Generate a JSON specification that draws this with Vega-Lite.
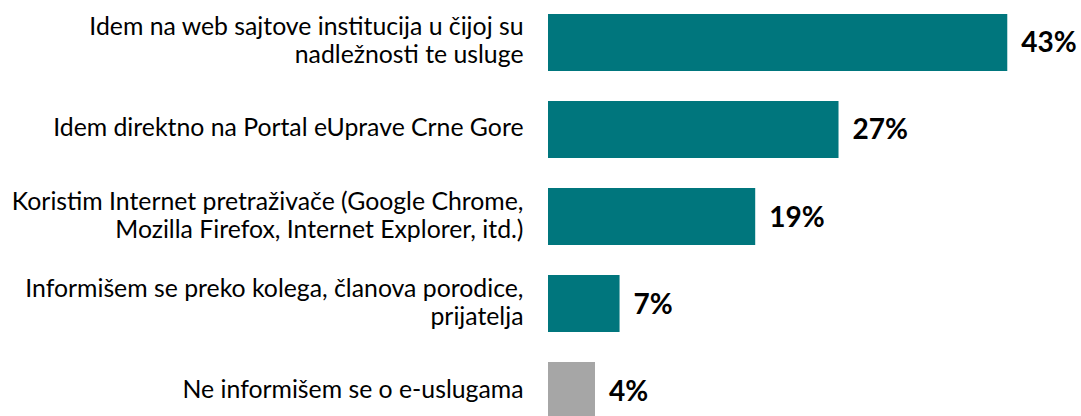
{
  "$schema": "https://vega.github.io/schema/vega-lite/v6.json",
  "autosize": {"type": "none"},
  "padding": {"left": 548, "top": 14, "right": 31, "bottom": 0},
  "width": 502,
  "height": 405,
  "background": "white",
  "config": {"view": {"stroke": null}, "font": "Lato"},
  "data": {
    "values": [
      {"label": "Idem na web sajtove institucija u čijoj su|nadležnosti te usluge", "value": 43, "pct": "43%", "grp": "a"},
      {"label": "Idem direktno na Portal eUprave Crne Gore", "value": 27.2, "pct": "27%", "grp": "a"},
      {"label": "Koristim Internet pretraživače (Google Chrome,|Mozilla Firefox, Internet Explorer, itd.)", "value": 19.4, "pct": "19%", "grp": "a"},
      {"label": "Informišem se preko kolega, članova porodice,|prijatelja", "value": 6.7, "pct": "7%", "grp": "a"},
      {"label": "Ne informišem se o e-uslugama", "value": 4.4, "pct": "4%", "grp": "b"}
    ]
  },
  "encoding": {
    "y": {
      "field": "label", "type": "nominal", "sort": null,
      "scale": {"paddingInner": 0.345, "paddingOuter": 0},
      "axis": {
        "title": null, "domain": false, "ticks": false,
        "labelExpr": "split(datum.label, '|')",
        "labelOffset": {"expr": "indexof(datum.value, '|') >= 0 ? -14 : 0"},
        "labelFontSize": 24.8, "labelColor": "#000000", "labelPadding": 25,
        "labelLineHeight": 28, "labelLimit": 600, "labelFont": "Lato"
      }
    },
    "x": {"field": "value", "type": "quantitative", "scale": {"domain": [0, 47]}, "axis": null}
  },
  "layer": [
    {
      "mark": {"type": "bar"},
      "encoding": {
        "color": {"field": "grp", "type": "nominal", "scale": {"domain": ["a", "b"], "range": ["#00767D", "#A6A6A6"]}, "legend": null}
      }
    },
    {
      "mark": {"type": "text", "align": "left", "dx": 14, "fontSize": 28, "fontWeight": "bold", "color": "#000000", "baseline": "middle", "dy": 2},
      "encoding": {"text": {"field": "pct", "type": "nominal"}}
    }
  ]
}
